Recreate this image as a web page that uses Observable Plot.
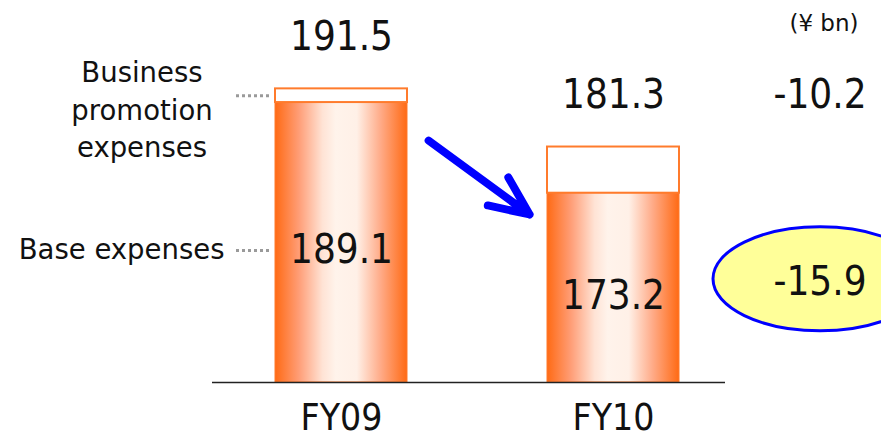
<!DOCTYPE html>
<html>
<head>
<meta charset="utf-8">
<script src="https://cdn.jsdelivr.net/npm/d3@7"></script>
<script src="https://cdn.jsdelivr.net/npm/@observablehq/plot@0.6"></script>
<style>
  html, body { margin: 0; padding: 0; background: #fff; }
  #chart svg { display: block; }
</style>
</head>
<body>
<div id="chart"></div>
<script>
// Expenses by fiscal year (¥ bn)
const years = ["FY09", "FY10"];
const totalExpenses = [191.5, 181.3];
const baseExpenses = [189.1, 173.2];
const segmentNames = ["Business\npromotion\nexpenses", "Base expenses"];
const unitNote = "(¥ bn)";

// The value axis is cut: bars rise from this floor, not from zero
const axisFloor = 140;
const axisCeil = 207;

const rows = years.map((year, i) => ({
  year,
  total: totalExpenses[i],
  base: baseExpenses[i],
  promo: totalExpenses[i] - baseExpenses[i]
}));
const first = rows[0];
const last = rows[rows.length - 1];
const change = {
  year: last.year,
  total: last.total,
  baseMid: (axisFloor + last.base) / 2,
  totalDelta: last.total - first.total,
  baseDelta: last.base - first.base
};

// one decimal, plain hyphen for negatives
const fmt = d3.formatLocale({ decimal: ".", thousands: ",", grouping: [3], currency: ["", ""], minus: "-" }).format(".1f");
const numFont = "'DejaVu Sans Condensed', 'DejaVu Sans', sans-serif";
const wordFont = "'DejaVu Sans', sans-serif";
const orange = "#ff7b2c";
const blue = "#0000ff";

// Ellipse symbol for Plot.dot; its width is `aspect` times its height
const ellipse = (aspect) => ({
  draw(context, size) {
    const ry = Math.sqrt(size / Math.PI), rx = ry * aspect, k = 0.5523;
    context.moveTo(rx, 0);
    context.bezierCurveTo(rx, k * ry, k * rx, ry, 0, ry);
    context.bezierCurveTo(-k * rx, ry, -rx, k * ry, -rx, 0);
    context.bezierCurveTo(-rx, -k * ry, -k * rx, -ry, 0, -ry);
    context.bezierCurveTo(k * rx, -ry, rx, -k * ry, rx, 0);
    context.closePath();
  }
});

const chart = Plot.plot({
  width: 881,
  height: 438,
  marginTop: 0,
  marginBottom: 56,
  marginLeft: 212,
  marginRight: 156,
  x: { type: "band", domain: years, range: [134.4, 820], padding: 0.516 },
  y: { domain: [axisFloor, axisCeil], axis: null },
  marks: [
    // base expenses (shaded) and business promotion expenses (white) stacked
    Plot.barY(rows, { x: "year", y1: axisFloor, y2: "base", fill: "url(#baseShade)", stroke: orange, strokeWidth: 1 }),
    Plot.barY(rows, { x: "year", y1: "base", y2: "total", fill: "white", stroke: orange, strokeWidth: 2 }),
    Plot.ruleY([axisFloor], { stroke: "#222", strokeWidth: 1.5 }),
    Plot.axisX({ tickSize: 0, tickPadding: 21, fontSize: 37, fontFamily: numFont, label: null, fill: "#111" }),

    // totals above the bars and base values inside them
    Plot.text(rows, { x: "year", y: "total", dy: -52, text: (d) => fmt(d.total), fontSize: 40, fontFamily: numFont, fill: "#111" }),
    Plot.text(rows, { x: "year", y: (d) => (axisFloor + d.base) / 2, dy: 8, text: (d) => fmt(d.base), fontSize: 40, fontFamily: numFont, fill: "#111" }),

    // segment names with dotted leaders
    Plot.ruleY([first], { y: (d) => (d.base + d.total) / 2, insetLeft: 24, insetRight: 453, stroke: "#9a9a9a", strokeWidth: 3, strokeDasharray: "3,3" }),
    Plot.ruleY([first], { y: (d) => (axisFloor + d.base) / 2, dy: 8, insetLeft: 24, insetRight: 453, stroke: "#9a9a9a", strokeWidth: 3, strokeDasharray: "3,3" }),
    Plot.text([first], { x: "year", y: (d) => (d.base + d.total) / 2, dx: -199.5, dy: 12, text: () => segmentNames[0], lineHeight: 1.36, fontSize: 27.5, fontFamily: wordFont, fill: "#111" }),
    Plot.text([first], { x: "year", y: (d) => (axisFloor + d.base) / 2, dx: -117, dy: 8, text: () => segmentNames[1], textAnchor: "end", fontSize: 27.5, fontFamily: wordFont, fill: "#111" }),

    // year-on-year decrease
    Plot.arrow([{ from: first, to: last }], {
      x1: (d) => d.from.year, y1: (d) => d.from.total,
      x2: (d) => d.to.year, y2: (d) => (axisFloor + d.to.base) / 2,
      insetStart: 108, insetEnd: 104, dy: -12,
      stroke: blue, strokeWidth: 8, headAngle: 48, strokeLinecap: "round", strokeLinejoin: "round"
    }),

    // changes in total and base expenses
    Plot.text([change], { x: "year", y: "total", dx: 206.5, dy: -52, text: (d) => fmt(d.totalDelta), fontSize: 40, fontFamily: numFont, fill: "#111" }),
    Plot.dot([change], { x: "year", y: "baseMid", dx: 206.5, dy: -9, r: 52, symbol: ellipse(107 / 52), fill: "#ffff99", stroke: blue, strokeWidth: 3 }),
    Plot.text([change], { x: "year", y: "baseMid", dx: 206.5, dy: -6, text: (d) => fmt(d.baseDelta), fontSize: 40, fontFamily: numFont, fill: "#111" }),

    // unit
    Plot.text([unitNote], { frameAnchor: "top-right", dx: 133, dy: 23, lineAnchor: "middle", textAnchor: "end", text: (d) => d, fontSize: 23, fontFamily: wordFont, fill: "#111" })
  ]
});

// horizontal shading of the base expense bars
const svgNode = chart.tagName.toLowerCase() === "svg" ? chart : chart.querySelector("svg");
const grad = d3.select(svgNode).insert("defs", ":first-child")
  .append("linearGradient")
  .attr("id", "baseShade")
  .attr("x1", "0").attr("y1", "0").attr("x2", "1").attr("y2", "0");
[
  [0, "#ff6a14"], [0.18, "#ff9d76"], [0.36, "#ffe3d5"], [0.46, "#fff3eb"],
  [0.62, "#fff0e7"], [0.8, "#ffab88"], [1, "#ff6a14"]
].forEach(([offset, color]) => {
  grad.append("stop").attr("offset", offset).attr("stop-color", color);
});

document.getElementById("chart").appendChild(chart);
</script>
</body>
</html>
